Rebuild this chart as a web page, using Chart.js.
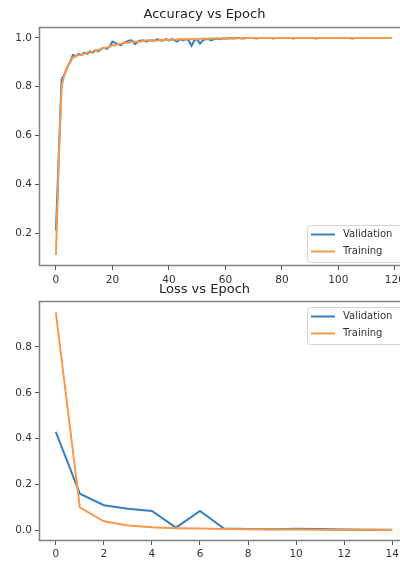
<!DOCTYPE html>
<html>
<head>
<meta charset="utf-8">
<script src="https://cdn.jsdelivr.net/npm/chart.js@4.4.1/dist/chart.umd.min.js"></script>
<style>
  html, body { margin: 0; padding: 0; background: #fff; }
  body { width: 400px; height: 561px; overflow: hidden; position: relative; }
  canvas { position: absolute; left: 0; }
  #acc { top: 0; }
  #loss { top: 278px; }
</style>
</head>
<body>
<canvas id="acc" width="448" height="290"></canvas>
<canvas id="loss" width="448" height="283"></canvas>
<script>
// Accuracy per epoch (120 epochs)
const valAcc = [
  0.21, 0.52, 0.83, 0.85, 0.88, 0.90, 0.93, 0.925, 0.935, 0.93,
  0.94, 0.935, 0.945, 0.94, 0.95, 0.945, 0.955, 0.96, 0.955, 0.965,
  0.985, 0.98, 0.975, 0.97, 0.98, 0.985, 0.99, 0.99, 0.975, 0.985,
  0.99, 0.99, 0.985, 0.99, 0.99, 0.99, 0.995, 0.99, 0.99, 0.995,
  0.99, 0.995, 0.99, 0.985, 0.995, 0.99, 0.995, 0.99, 0.968, 0.99,
  0.995, 0.977, 0.99, 0.995, 0.995, 0.99, 0.995, 0.998, 0.995, 0.998,
  0.998, 0.998, 1.0, 0.998, 1.0, 1.0, 0.998, 1.0, 1.0, 1.0,
  1.0, 0.998, 1.0, 1.0, 1.0, 1.0, 1.0, 0.998, 1.0, 1.0,
  1.0, 1.0, 1.0, 1.0, 0.998, 1.0, 1.0, 1.0, 1.0, 1.0,
  1.0, 1.0, 0.998, 1.0, 1.0, 1.0, 1.0, 1.0, 1.0, 1.0,
  1.0, 1.0, 1.0, 1.0, 1.0, 0.998, 1.0, 1.0, 1.0, 1.0,
  1.0, 1.0, 1.0, 1.0, 1.0, 1.0, 1.0, 1.0, 1.0, 1.0
];
const trainAcc = [
  0.11, 0.50, 0.80, 0.85, 0.88, 0.90, 0.92, 0.925, 0.93, 0.93,
  0.935, 0.94, 0.94, 0.945, 0.95, 0.95, 0.955, 0.96, 0.96, 0.965,
  0.97, 0.97, 0.975, 0.975, 0.98, 0.98, 0.98, 0.985, 0.985, 0.985,
  0.985, 0.99, 0.99, 0.99, 0.99, 0.99, 0.99, 0.992, 0.992, 0.992,
  0.993, 0.993, 0.994, 0.994, 0.995, 0.995, 0.995, 0.995, 0.996, 0.996,
  0.996, 0.997, 0.997, 0.997, 0.997, 0.998, 0.998, 0.998, 0.998, 0.998,
  0.999, 0.999, 0.999, 0.999, 0.999, 0.999, 1.0, 0.999, 1.0, 1.0,
  1.0, 1.0, 1.0, 1.0, 1.0, 1.0, 1.0, 1.0, 1.0, 1.0,
  1.0, 1.0, 1.0, 1.0, 1.0, 1.0, 1.0, 1.0, 1.0, 1.0,
  1.0, 1.0, 1.0, 1.0, 1.0, 1.0, 1.0, 1.0, 1.0, 1.0,
  1.0, 1.0, 1.0, 1.0, 1.0, 1.0, 1.0, 1.0, 1.0, 1.0,
  1.0, 1.0, 1.0, 1.0, 1.0, 1.0, 1.0, 1.0, 1.0, 1.0
];

// Loss per epoch (15 epochs)
const valLoss = [0.43, 0.16, 0.11, 0.095, 0.085, 0.012, 0.085, 0.008, 0.006, 0.005, 0.007, 0.006, 0.004, 0.003, 0.003];
const trainLoss = [0.95, 0.10, 0.04, 0.022, 0.014, 0.010, 0.008, 0.006, 0.005, 0.004, 0.004, 0.003, 0.003, 0.003, 0.002];

// tick labels
const accXTicks = [0, 20, 40, 60, 80, 100, 120];
const accYTicks = [0.2, 0.4, 0.6, 0.8, 1.0];
const lossXTicks = [0, 2, 4, 6, 8, 10, 12, 14];
const lossYTicks = [0.0, 0.2, 0.4, 0.6, 0.8];

const BLUE = '#3a7fbc';
const ORANGE = '#f7994a';
const FONT = 'DejaVu Sans';

// box around the plot area + matplotlib-like legend
const frameLegend = {
  id: 'frameLegend',
  afterDatasetsDraw(chart, args, opts) {
    const { ctx, chartArea: a } = chart;
    ctx.save();
    ctx.strokeStyle = '#808080';
    ctx.lineWidth = 1.5;
    ctx.strokeRect(a.left + 0.5, a.top + 0.5, a.right - a.left - 1, a.bottom - a.top - 1);

    const w = 97, h = 37;
    const x = a.right - 102;
    const y = opts.corner === 'lower' ? a.bottom - 4 - h : a.top + 6;
    ctx.fillStyle = 'rgba(255,255,255,0.8)';
    ctx.strokeStyle = '#d4d4d4';
    ctx.lineWidth = 1;
    ctx.beginPath();
    ctx.roundRect(x + 0.5, y + 0.5, w, h, 3);
    ctx.fill();
    ctx.stroke();

    const items = [['Validation', BLUE], ['Training', ORANGE]];
    ctx.font = `10px "${FONT}"`;
    ctx.textBaseline = 'middle';
    items.forEach(([label, color], i) => {
      const ry = y + 9.5 + i * 17;
      ctx.strokeStyle = color;
      ctx.lineWidth = 2;
      ctx.beginPath();
      ctx.moveTo(x + 4, ry);
      ctx.lineTo(x + 28, ry);
      ctx.stroke();
      ctx.fillStyle = '#333';
      ctx.fillText(label, x + 36, ry);
    });
    ctx.restore();
  }
};

function makeChart(id, cfg) {
  const ds = (label, values, color, order) => ({
    label,
    data: values.map((v, i) => ({ x: i, y: v })),
    borderColor: color,
    backgroundColor: color,
    borderWidth: 2,
    pointRadius: 0,
    tension: 0,
    order,
  });
  const tickStyle = { color: '#333', font: { size: 10.5, family: FONT } };
  const grid = { display: true, drawOnChartArea: false, drawTicks: true, tickLength: 4, color: '#555' };

  return new Chart(document.getElementById(id), {
    type: 'line',
    data: {
      datasets: [
        ds('Validation', cfg.val, BLUE, 1),
        ds('Training', cfg.train, ORANGE, 0),
      ]
    },
    options: {
      responsive: false,
      animation: false,
      devicePixelRatio: 1,
      layout: { padding: { left: 0, right: 39, top: 0, bottom: 0 } },
      plugins: {
        legend: { display: false },
        tooltip: { enabled: false },
        title: {
          display: true,
          text: cfg.title,
          color: '#222',
          font: { size: 13, family: FONT, weight: 'normal', lineHeight: 1 },
          padding: cfg.titlePad,
        },
        frameLegend: { corner: cfg.legend },
      },
      scales: {
        x: {
          type: 'linear',
          min: cfg.xMin, max: cfg.xMax,
          border: { display: false },
          grid,
          ticks: { ...tickStyle, padding: cfg.xPad, maxRotation: 0, callback: v => String(v) },
          afterBuildTicks: axis => { axis.ticks = cfg.xTicks.map(v => ({ value: v })); },
          afterFit: axis => { axis.height = cfg.xHeight; },
        },
        y: {
          min: cfg.yMin, max: cfg.yMax,
          border: { display: false },
          grid,
          ticks: { ...tickStyle, padding: 3, callback: v => v.toFixed(1) },
          afterBuildTicks: axis => { axis.ticks = cfg.yTicks.map(v => ({ value: v })); },
          afterFit: axis => { axis.width = 39; },
        }
      }
    },
    plugins: [frameLegend]
  });
}

makeChart('acc', {
  title: 'Accuracy vs Epoch',
  titlePad: { top: 8, bottom: 6 },
  val: valAcc, train: trainAcc,
  xMin: -6, xMax: 125, yMin: 0.065, yMax: 1.045,
  xTicks: accXTicks, yTicks: accYTicks,
  xHeight: 24, xPad: 4,
  legend: 'lower',
});

makeChart('loss', {
  title: 'Loss vs Epoch',
  titlePad: { top: 5.5, bottom: 4.5 },
  val: valLoss, train: trainLoss,
  xMin: -0.7, xMax: 14.7, yMin: -0.046, yMax: 1.0,
  xTicks: lossXTicks, yTicks: lossYTicks,
  xHeight: 20, xPad: 3,
  legend: 'upper',
});
</script>
</body>
</html>
